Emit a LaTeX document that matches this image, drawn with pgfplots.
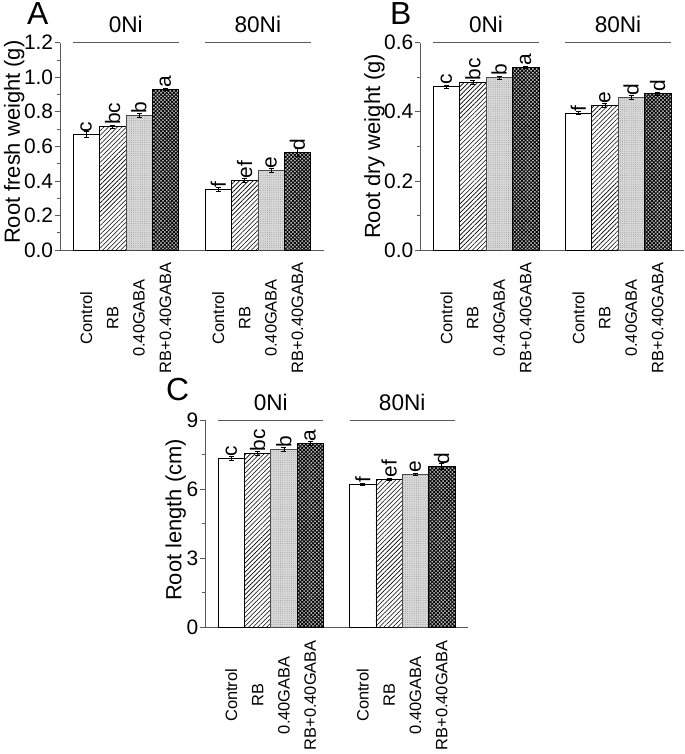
\documentclass[border=0pt]{standalone}
\usepackage{fontspec}
\setmainfont{Liberation Sans}
\usepackage{pgfplots}
\pgfplotsset{compat=1.18}
\usetikzlibrary{patterns,patterns.meta}
\pgfplotsset{
 myaxis/.style={
  scale only axis, width=264bp, height=207.3bp,
  axis lines*=left, axis line style={gray!70!black, line width=0.6bp},
  xmin=0, xmax=10, ymin=0,
  xtick={1,2,3,4,6,7,8,9},
  xticklabels={Control,RB,0.40GABA,RB+0.40GABA,Control,RB,0.40GABA,RB+0.40GABA},
  x tick label style={yshift=-63bp, rotate=90, anchor=center, font=\fontsize{16.5}{18}\selectfont, inner sep=0pt},
  xtick style={draw=none},
  ytick style={gray!70!black, line width=0.6bp},
  tick align=outside, major tick length=5bp, minor tick length=3bp,
  minor y tick num=1,
  yticklabel style={font=\fontsize{21}{24}\selectfont, inner sep=1.5bp},
  /pgf/number format/assume math mode=true,
  ylabel style={font=\fontsize{22}{24}\selectfont, inner sep=0pt, anchor=south},
  clip=false,
  point meta=explicit symbolic,
  nodes near coords,
  every node near coord/.append style={rotate=90, anchor=west, font=\fontsize{21}{24}\selectfont, inner sep=1.5bp, black},
  error bars/y dir=both, error bars/y explicit,
  error bars/error bar style={black, line width=0.5bp},
  error bars/error mark options={rotate=90, mark size=2.5bp, line width=0.5bp, black},
 },
 ctrl/.style={ybar, bar width=1, bar shift=0pt, draw=black, line width=0.6bp, fill=white},
 rb/.style={ybar, bar width=1, bar shift=0pt, draw=black, line width=0.6bp, fill=white,
   postaction={pattern color=black, pattern={Lines[angle=45, distance=3.2pt, line width=0.6pt]}}},
 gaba/.style={ybar, bar width=1, bar shift=0pt, draw=gray!60!black, line width=0.6bp, fill=gray!30,
   postaction={pattern color=gray!80, pattern={Dots[distance=2.2pt, radius=0.5pt]}}},
 rbgaba/.style={ybar, bar width=1, bar shift=0pt, draw=black, line width=0.6bp, fill=gray!50,
   postaction={pattern color=black, pattern={Hatch[angle=45, distance=2.6pt, line width=0.85pt]}}},
}
\begin{document}
\begin{tikzpicture}
\useasboundingbox (0,0) rectangle (685bp,754bp);
% Panel A
\begin{axis}[myaxis, at={(59.8bp,504bp)}, anchor=south west,
  ymax=1.2, ytick={0,0.2,0.4,0.6,0.8,1.0,1.2},
  yticklabel style={/pgf/number format/.cd, fixed, fixed zerofill, precision=1},
  ylabel={Root fresh weight (g)},
  ylabel style={at={(axis description cs:-0.133,0.52)}}]
\addplot[ctrl] table[x=x,y=y,y error=e,meta=l,row sep=\\]{x y e l\\ 1 0.670 0.020 c\\ 6 0.351 0.010 f\\};
\addplot[rb] table[x=x,y=y,y error=e,meta=l,row sep=\\]{x y e l\\ 2 0.714 0.008 bc\\ 7 0.403 0.010 ef\\};
\addplot[gaba] table[x=x,y=y,y error=e,meta=l,row sep=\\]{x y e l\\ 3 0.780 0.012 b\\ 8 0.461 0.010 e\\};
\addplot[rbgaba] table[x=x,y=y,y error=e,meta=l,row sep=\\]{x y e l\\ 4 0.930 0.005 a\\ 9 0.565 0.025 d\\};
\draw[gray!70!black, line width=0.6bp] (axis cs:0.5,1.2) -- (axis cs:4.5,1.2);
\draw[gray!70!black, line width=0.6bp] (axis cs:5.5,1.2) -- (axis cs:9.5,1.2);
\node[anchor=base, font=\fontsize{22.7}{24}\selectfont, yshift=9.7bp] at (axis cs:2.5,1.2) {0Ni};
\node[anchor=base, font=\fontsize{22.7}{24}\selectfont, yshift=9.7bp] at (axis cs:7.5,1.2) {80Ni};
\end{axis}
% Panel B
\begin{axis}[myaxis, at={(420bp,504bp)}, anchor=south west,
  ymax=0.6, ytick={0,0.2,0.4,0.6},
  yticklabel style={/pgf/number format/.cd, fixed, fixed zerofill, precision=1},
  ylabel={Root dry weight (g)},
  ylabel style={at={(axis description cs:-0.133,0.5)}}]
\addplot[ctrl] table[x=x,y=y,y error=e,meta=l,row sep=\\]{x y e l\\ 1 0.473 0.004 c\\ 6 0.397 0.004 f\\};
\addplot[rb] table[x=x,y=y,y error=e,meta=l,row sep=\\]{x y e l\\ 2 0.486 0.005 bc\\ 7 0.419 0.006 e\\};
\addplot[gaba] table[x=x,y=y,y error=e,meta=l,row sep=\\]{x y e l\\ 3 0.499 0.005 b\\ 8 0.441 0.006 d\\};
\addplot[rbgaba] table[x=x,y=y,y error=e,meta=l,row sep=\\]{x y e l\\ 4 0.528 0.003 a\\ 9 0.453 0.004 d\\};
\draw[gray!70!black, line width=0.6bp] (axis cs:0.5,0.6) -- (axis cs:4.5,0.6);
\draw[gray!70!black, line width=0.6bp] (axis cs:5.5,0.6) -- (axis cs:9.5,0.6);
\node[anchor=base, font=\fontsize{22.7}{24}\selectfont, yshift=9.7bp] at (axis cs:2.5,0.6) {0Ni};
\node[anchor=base, font=\fontsize{22.7}{24}\selectfont, yshift=9.7bp] at (axis cs:7.5,0.6) {80Ni};
\end{axis}
% Panel C
\begin{axis}[myaxis, at={(205bp,126.7bp)}, anchor=south west, width=263bp,
  ymax=9, ytick={0,3,6,9},
  ylabel={Root length (cm)},
  ylabel style={at={(axis description cs:-0.072,0.518)}}]
\addplot[ctrl] table[x=x,y=y,y error=e,meta=l,row sep=\\]{x y e l\\ 1 7.34 0.10 c\\ 6 6.21 0.05 f\\};
\addplot[rb] table[x=x,y=y,y error=e,meta=l,row sep=\\]{x y e l\\ 2 7.55 0.08 bc\\ 7 6.42 0.05 ef\\};
\addplot[gaba] table[x=x,y=y,y error=e,meta=l,row sep=\\]{x y e l\\ 3 7.73 0.08 b\\ 8 6.63 0.05 e\\};
\addplot[rbgaba] table[x=x,y=y,y error=e,meta=l,row sep=\\]{x y e l\\ 4 7.99 0.10 a\\ 9 6.99 0.12 d\\};
\draw[gray!70!black, line width=0.6bp] (axis cs:0.5,9) -- (axis cs:4.5,9);
\draw[gray!70!black, line width=0.6bp] (axis cs:5.5,9) -- (axis cs:9.5,9);
\node[anchor=base, font=\fontsize{22.7}{24}\selectfont, yshift=9.7bp] at (axis cs:2.5,9) {0Ni};
\node[anchor=base, font=\fontsize{22.7}{24}\selectfont, yshift=9.7bp] at (axis cs:7.5,9) {80Ni};
\end{axis}
\node[anchor=base west, font=\fontsize{32}{34}\selectfont, inner sep=0pt] at (27bp,729bp) {A};
\node[anchor=base west, font=\fontsize{32}{34}\selectfont, inner sep=0pt] at (390bp,729bp) {B};
\node[anchor=base west, font=\fontsize{32}{34}\selectfont, inner sep=0pt] at (166bp,353.3bp) {C};
\end{tikzpicture}
\end{document}
